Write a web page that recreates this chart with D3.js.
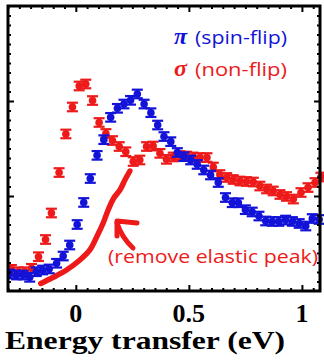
<!DOCTYPE html>
<html>
<head>
<meta charset="utf-8">
<script src="https://cdn.jsdelivr.net/npm/d3@7"></script>
<style>
  html, body { margin: 0; padding: 0; background: #fff; }
  svg { display: block; }
  .serif { font-family: "Times New Roman", "Liberation Serif", Tinos, serif; font-weight: bold; }
  .hand { font-family: "Comic Sans MS", "Open Sans", sans-serif; }
</style>
</head>
<body>
<div id="chart"></div>
<script>
// Energy transfer (eV) and intensity
const sigmaX = [-0.285, -0.255, -0.226, -0.196, -0.165, -0.134, -0.108, -0.074, -0.044, -0.015,
  0.015, 0.044, 0.074, 0.103, 0.133, 0.162, 0.192, 0.221, 0.254, 0.283,
  0.313, 0.342, 0.372, 0.401, 0.431, 0.460, 0.490, 0.519, 0.549, 0.580,
  0.608, 0.637, 0.667, 0.696, 0.726, 0.755, 0.785, 0.814, 0.844, 0.873,
  0.903, 0.932, 0.962, 0.996, 1.027, 1.058, 1.084];
const sigmaY = [0.228, 0.203, 0.203, 0.239, 0.361, 0.542, 0.821, 1.247, 1.653, 1.937,
  2.158, 2.179, 2.005, 1.774, 1.658, 1.584, 1.521, 1.466, 1.363, 1.379,
  1.521, 1.526, 1.449, 1.386, 1.411, 1.426, 1.421, 1.411, 1.405, 1.405,
  1.305, 1.226, 1.195, 1.174, 1.158, 1.153, 1.147, 1.105, 1.074, 1.053,
  1.016, 0.995, 0.968, 1.037, 1.089, 1.142, 1.200];

const piX = [-0.292, -0.262, -0.233, -0.204, -0.175, -0.147, -0.118, -0.085, -0.056, -0.027,
  0.006, 0.035, 0.064, 0.094, 0.124, 0.154, 0.184, 0.213, 0.242, 0.272,
  0.302, 0.332, 0.362, 0.390, 0.420, 0.449, 0.478, 0.508, 0.537, 0.566,
  0.596, 0.630, 0.662, 0.692, 0.719, 0.750, 0.780, 0.810, 0.840, 0.869,
  0.898, 0.928, 0.958, 0.988, 1.017, 1.046, 1.076];
const piY = [0.179, 0.168, 0.168, 0.144, 0.203, 0.221, 0.232, 0.292, 0.368, 0.484,
  0.700, 0.932, 1.184, 1.428, 1.593, 1.828, 1.923, 1.968, 2.007, 2.074,
  1.968, 1.877, 1.747, 1.626, 1.572, 1.458, 1.414, 1.379, 1.332, 1.274,
  1.221, 1.142, 0.984, 0.929, 0.929, 0.856, 0.832, 0.789, 0.737, 0.732,
  0.732, 0.747, 0.732, 0.711, 0.684, 0.763, 0.753];

// hand-drawn curve: sigma with the elastic peak removed
const inelX = [-0.155, -0.102, -0.041, 0.018, 0.062, 0.092, 0.121, 0.143, 0.168, 0.195, 0.217, 0.239];
const inelY = [0.079, 0.142, 0.221, 0.326, 0.432, 0.568, 0.716, 0.853, 0.979, 1.063, 1.168, 1.263];

const errBar = 0.045;
const xTickLabels = ['0', '0.5', '1'];
const xTickValues = [0, 0.5, 1];

const RED = '#ee1a1a';
const BLUE = '#1212d8';

const width = 324;
const height = 362;
const frame = { left: 8, right: 320, top: 6, bottom: 291 };

const svg = d3.select('#chart')
  .append('svg')
  .attr('width', width)
  .attr('height', height);

const x = d3.scaleLinear().domain([-0.30, 1.08]).range([frame.left, frame.right]);
const y = d3.scaleLinear().domain([0, 3]).range([frame.bottom, frame.top]);

// Clip marks to the frame
svg.append('clipPath').attr('id', 'plotClip')
  .append('rect')
  .attr('x', frame.left).attr('y', frame.top)
  .attr('width', frame.right - frame.left + 4)
  .attr('height', frame.bottom - frame.top);

const plot = svg.append('g').attr('clip-path', 'url(#plotClip)');

// inelastic curve (drawn first, under the points)
plot.append('path')
  .datum(inelX.map((v, i) => [v, inelY[i]]))
  .attr('fill', 'none')
  .attr('stroke', RED)
  .attr('stroke-width', 5.5)
  .attr('stroke-linecap', 'round')
  .attr('stroke-linejoin', 'round')
  .attr('d', d3.line().x((d) => x(d[0])).y((d) => y(d[1])).curve(d3.curveCatmullRom));

const drawSeries = (xs, ys, color) => {
  const data = xs.map((v, i) => ({ x: v, y: ys[i] }));
  const g = plot.append('g').attr('stroke', color).attr('fill', color);
  const pts = g.selectAll('g').data(data).join('g');
  pts.append('line')
    .attr('x1', (d) => x(d.x)).attr('x2', (d) => x(d.x))
    .attr('y1', (d) => y(d.y - errBar)).attr('y2', (d) => y(d.y + errBar))
    .attr('stroke-width', 2.2);
  [-1, 1].forEach((s) => {
    pts.append('line')
      .attr('x1', (d) => x(d.x) - 5.5).attr('x2', (d) => x(d.x) + 5.5)
      .attr('y1', (d) => y(d.y + s * errBar)).attr('y2', (d) => y(d.y + s * errBar))
      .attr('stroke-width', 2.2);
  });
  pts.append('circle')
    .attr('cx', (d) => x(d.x)).attr('cy', (d) => y(d.y))
    .attr('r', 3.8)
    .attr('stroke', 'none');
};

drawSeries(sigmaX, sigmaY, RED);
drawSeries(piX, piY, BLUE);

// Axes: ticks inward on all four sides
const xMinor = d3.range(-0.30, 1.08, 0.05).filter((v) => Math.abs(v / 0.5 - Math.round(v / 0.5)) > 1e-6);
const yMinor = d3.range(0.1, 3, 0.1).filter((v) => Math.abs(v - Math.round(v)) > 1e-6);
const yMajor = [1, 2];

const addAxis = (axis, transform) => {
  svg.append('g')
    .attr('transform', transform)
    .call(axis)
    .call((g) => g.select('.domain').remove())
    .call((g) => g.selectAll('.tick text').remove())
    .call((g) => g.selectAll('.tick line').attr('stroke', '#000').attr('stroke-width', 2));
};

addAxis(d3.axisBottom(x).tickValues(xTickValues).tickSize(-6), `translate(0,${frame.bottom})`);
addAxis(d3.axisBottom(x).tickValues(xMinor).tickSize(-3), `translate(0,${frame.bottom})`);
addAxis(d3.axisTop(x).tickValues(xTickValues).tickSize(-6), `translate(0,${frame.top})`);
addAxis(d3.axisTop(x).tickValues(xMinor).tickSize(-3), `translate(0,${frame.top})`);
addAxis(d3.axisLeft(y).tickValues(yMajor).tickSize(-6), `translate(${frame.left},0)`);
addAxis(d3.axisLeft(y).tickValues(yMinor).tickSize(-3), `translate(${frame.left},0)`);
addAxis(d3.axisRight(y).tickValues(yMajor).tickSize(-6), `translate(${frame.right},0)`);
addAxis(d3.axisRight(y).tickValues(yMinor).tickSize(-3), `translate(${frame.right},0)`);

svg.append('rect')
  .attr('x', frame.left).attr('y', frame.top)
  .attr('width', frame.right - frame.left)
  .attr('height', frame.bottom - frame.top)
  .attr('fill', 'none')
  .attr('stroke', '#000')
  .attr('stroke-width', 3);

// x tick labels
svg.append('g')
  .selectAll('text')
  .data(xTickValues)
  .join('text')
  .attr('class', 'serif')
  .attr('x', (d) => x(d))
  .attr('y', 322)
  .attr('text-anchor', 'middle')
  .attr('font-size', 26)
  .text((d, i) => xTickLabels[i]);

svg.append('text')
  .attr('class', 'serif')
  .attr('x', 5)
  .attr('y', 349)
  .attr('font-size', 26)
  .attr('textLength', 280)
  .attr('lengthAdjust', 'spacingAndGlyphs')
  .text('Energy transfer (eV)');

// legend
const legend = [
  { sym: 'π', label: '(spin-flip)', color: BLUE, yb: 44 },
  { sym: 'σ', label: '(non-flip)', color: RED, yb: 76 }
];
legend.forEach((d) => {
  svg.append('text')
    .attr('class', 'serif')
    .attr('x', 174).attr('y', d.yb)
    .attr('font-style', 'italic')
    .attr('font-size', 24)
    .attr('fill', d.color)
    .text(d.sym);
  svg.append('text')
    .attr('class', 'hand')
    .attr('x', 195).attr('y', d.yb)
    .attr('font-size', 19)
    .attr('fill', d.color)
    .attr('textLength', 92)
    .attr('lengthAdjust', 'spacingAndGlyphs')
    .text(d.label);
});

// annotation
svg.append('text')
  .attr('class', 'hand')
  .attr('x', 108).attr('y', 263)
  .attr('font-size', 19)
  .attr('fill', RED)
  .attr('textLength', 210)
  .attr('lengthAdjust', 'spacingAndGlyphs')
  .text('(remove elastic peak)');

const arrow = svg.append('g')
  .attr('fill', 'none')
  .attr('stroke', RED)
  .attr('stroke-width', 5)
  .attr('stroke-linecap', 'round')
  .attr('stroke-linejoin', 'round');
arrow.append('path').attr('d', 'M133,248 Q122,238 117,223');
arrow.append('path').attr('d', 'M137,223 L117,221 L117,236');
</script>
</body>
</html>
